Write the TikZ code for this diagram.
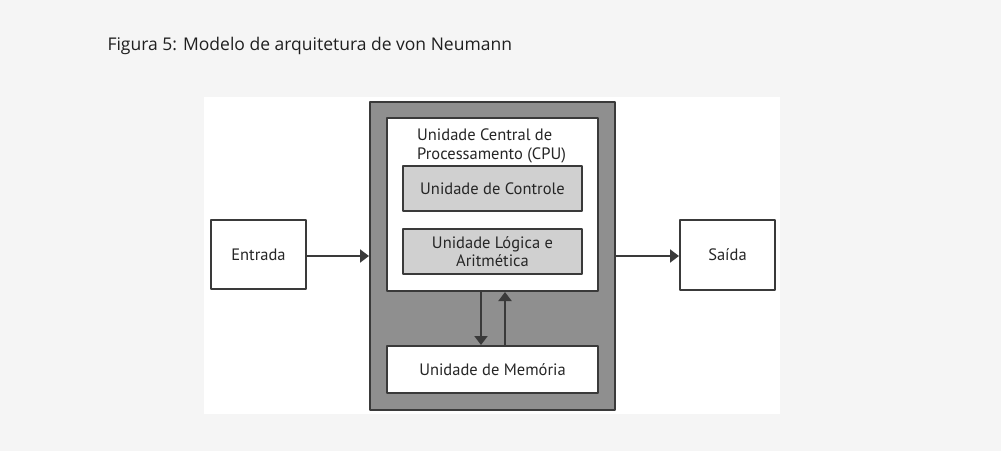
\documentclass[tikz,border=0pt]{standalone}
\usepackage{fontspec}
\setmainfont{PT Sans}
\newfontfamily\captionfont{Open Sans}
\usetikzlibrary{arrows.meta}
\definecolor{pagegray}{HTML}{F5F5F5}
\definecolor{linegray}{HTML}{3A3A3A}
\definecolor{outergray}{HTML}{8F8F8F}
\definecolor{unitgray}{HTML}{D0D0D0}
\tikzset{
  unitbox/.style={draw=linegray,line width=2pt,fill=white,inner sep=0pt,font=\fontsize{16.5}{18.5}\selectfont,align=center,text=black!85},
  subbox/.style={unitbox,fill=unitgray},
  flow/.style={-{Triangle[length=9pt,width=13pt]},draw=linegray,line width=2pt}
}
\begin{document}
\begin{tikzpicture}[line cap=round,line join=round,x=1pt,y=-1pt]
\useasboundingbox[fill=pagegray] (0,0) rectangle (1001,451);
\fill[white] (204,97) rectangle (780,414);
\node[anchor=base west,font=\captionfont\fontsize{17.5}{20}\selectfont,text=black!88] (caption) at (104,50) {Figura 5: Modelo de arquitetura de von Neumann};
% caixas
\node[unitbox,fill=outergray,minimum width=245pt,minimum height=308pt] (outer) at (492.5,256) {};
\node[unitbox,minimum width=211pt,minimum height=173pt] (cpu) at (492.5,204.5) {};
\node[anchor=west,align=left,font=\fontsize{16.5}{18.5}\selectfont,inner sep=0pt,text=black!85] (cpulabel) at (417,146) {Unidade Central de\\Processamento (CPU)};
\node[subbox,minimum width=179pt,minimum height=45pt] (controle) at (492.5,188.5) {Unidade de Controle};
\node[subbox,minimum width=179pt,minimum height=45pt] (ula) at (492.5,251.5) {Unidade L\'ogica e\\Aritm\'etica};
\node[unitbox,minimum width=211pt,minimum height=47pt] (memoria) at (492.5,369.5) {Unidade de Mem\'oria};
\node[unitbox,minimum width=95pt,minimum height=69pt] (entrada) at (258.5,254.5) {Entrada};
\node[unitbox,minimum width=95pt,minimum height=70pt] (saida) at (727.5,255) {Sa\'ida};
% setas
\draw[flow] (entrada.east |- 0,256) -- (outer.west |- 0,256);
\draw[flow] (outer.east |- 0,256) -- (saida.west |- 0,256);
\draw[flow] (cpu.south -| 481,0) -- (memoria.north -| 481,0);
\draw[flow] (memoria.north -| 505,0) -- (cpu.south -| 505,0);
\end{tikzpicture}
\end{document}
